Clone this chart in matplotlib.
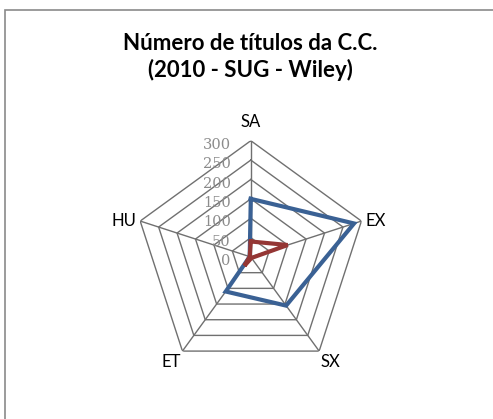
import numpy as np
import matplotlib
matplotlib.use("Agg")
import matplotlib.pyplot as plt
from matplotlib.patches import Rectangle

categories = ["SA", "EX", "SX", "ET", "HU"]
blue_values = [150, 280, 155, 110, 3]
red_values = [40, 100, 3, 28, 3]
ring_levels = [0, 50, 100, 150, 200, 250, 300]
ring_labels = ["0", "50", "100", "150", "200", "250", "300"]
title = "Número de títulos da C.C.\n(2010 - SUG - Wiley)"

W, H = 493, 419
fig = plt.figure(figsize=(W / 100, H / 100), dpi=100)
fig.patch.set_facecolor("white")

# outer frame
fig.patches.append(Rectangle((5 / W, -0.1), 1.2, 1 - 10 / H + 0.1, transform=fig.transFigure,
                             fill=False, edgecolor="#8a8a8a", lw=1.2))

cx, cy, R = 250.8, 257, 116.3
ax = fig.add_axes([(cx - R) / W, (H - cy - R) / H, 2 * R / W, 2 * R / H], projection="polar")
ax.set_theta_offset(np.pi / 2)
ax.set_theta_direction(-1)
ax.set_ylim(0, 300)
ax.set_axis_off()

n = len(categories)
angles = np.linspace(0, 2 * np.pi, n, endpoint=False)
closed = np.concatenate([angles, angles[:1]])

grid_col = "#707070"
for r in ring_levels[1:]:
    ax.plot(closed, [r] * (n + 1), color=grid_col, lw=1.0, zorder=1)
for a in angles:
    ax.plot([a, a], [0, 300], color=grid_col, lw=1.0, zorder=1)

bv = blue_values + blue_values[:1]
rv = red_values + red_values[:1]
ax.plot(closed, bv, color="#3a6194", lw=3.0, zorder=3, solid_joinstyle="miter")
ax.plot(closed, rv, color="#943634", lw=3.0, zorder=4, solid_joinstyle="miter")

for r, lab in zip(ring_levels, ring_labels):
    ax.annotate(lab, xy=(0, r), xytext=(-14.5, -3), textcoords="offset points",
                ha="right", va="center", fontsize=10.5, family="DejaVu Serif",
                color="#8c8c8c", zorder=5)

lab_font = dict(fontsize=12, family="Lato", color="black")
offsets = {
    "SA": ((0, 8), "center", "bottom"),
    "EX": ((3, 0), "left", "center"),
    "SX": ((1, -2), "left", "top"),
    "ET": ((-1, -2), "right", "top"),
    "HU": ((-3, 0), "right", "center"),
}
for a, cat in zip(angles, categories):
    off, ha, va = offsets[cat]
    ax.annotate(cat, xy=(a, 300), xytext=off, textcoords="offset points",
                ha=ha, va=va, **lab_font)

fig.text(250 / W, 1 - 57 / H, title, ha="center", va="center", fontsize=16,
         fontweight="bold", family="Lato", linespacing=1.3)

fig.savefig("out.png", dpi=100)
